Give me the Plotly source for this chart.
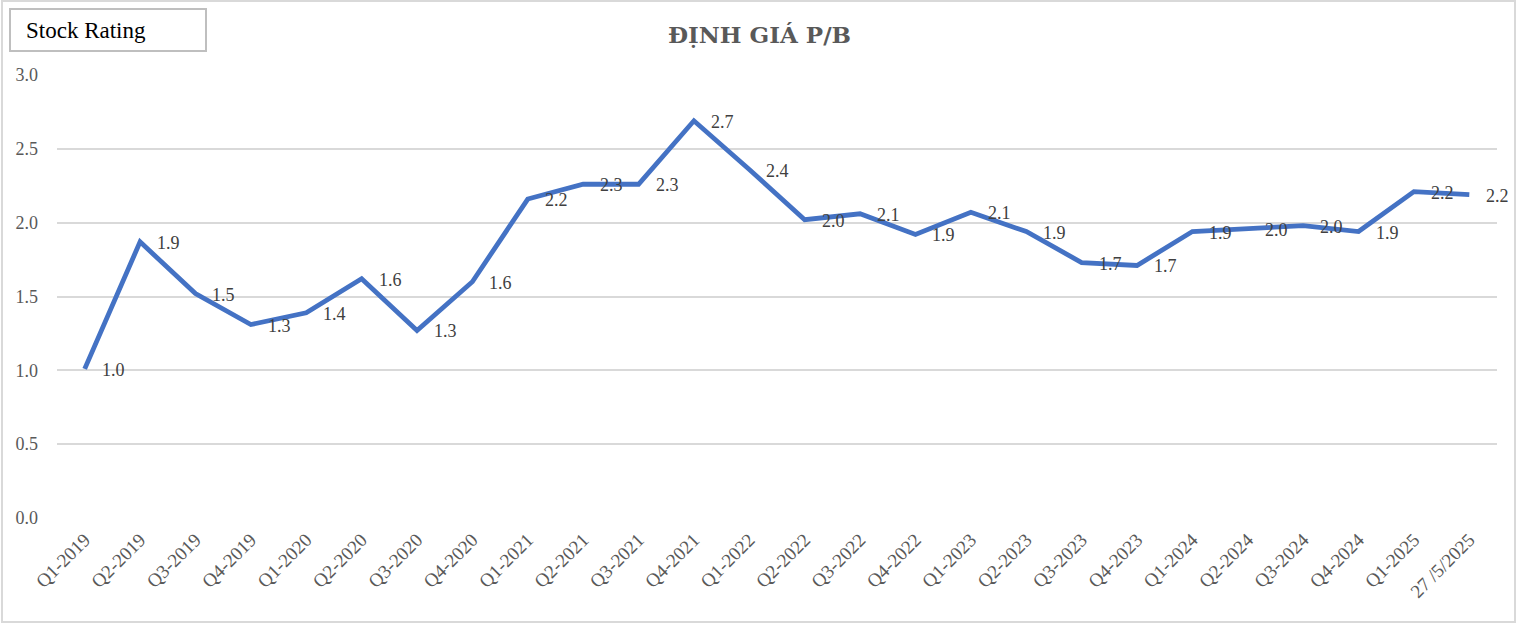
import plotly.graph_objects as go

categories = ["Q1-2019", "Q2-2019", "Q3-2019", "Q4-2019", "Q1-2020", "Q2-2020", "Q3-2020",
              "Q4-2020", "Q1-2021", "Q2-2021", "Q3-2021", "Q4-2021", "Q1-2022", "Q2-2022",
              "Q3-2022", "Q4-2022", "Q1-2023", "Q2-2023", "Q3-2023", "Q4-2023", "Q1-2024",
              "Q2-2024", "Q3-2024", "Q4-2024", "Q1-2025", "27 /5/2025"]
pb_values = [1.01, 1.87, 1.52, 1.31, 1.39, 1.62, 1.27, 1.60, 2.16, 2.26, 2.26, 2.69, 2.36,
             2.02, 2.06, 1.92, 2.07, 1.94, 1.73, 1.71, 1.94, 1.96, 1.98, 1.94, 2.21, 2.19]
y_ticks = [0.0, 0.5, 1.0, 1.5, 2.0, 2.5, 3.0]
title_text = "ĐỊNH GIÁ P/B"
box_text = "Stock Rating"

serif = "Liberation Serif"
x_idx = list(range(len(categories)))

fig = go.Figure()
fig.add_trace(go.Scatter(
    x=x_idx, y=pb_values, mode="lines",
    line=dict(color="#4472C4", width=4.8),
    hoverinfo="skip", showlegend=False,
))

for xi, v in zip(x_idx, pb_values):
    fig.add_annotation(x=xi, y=v, text=f"{v:.1f}", showarrow=False,
                       xanchor="left", yanchor="middle", xshift=15, yshift=-1,
                       font=dict(family=serif, size=18, color="#404040"))

fig.update_layout(
    width=1519, height=625,
    margin=dict(l=57, r=22, t=75, b=107),
    paper_bgcolor="white", plot_bgcolor="white",
    title=dict(text=f"<b>{title_text}</b>", x=0.5, xanchor="center", y=0.944, yanchor="middle",
               font=dict(family="DejaVu Serif", size=23, color="#595959")),
    xaxis=dict(
        tickmode="array", tickvals=x_idx, ticktext=categories,
        range=[-0.5, len(categories) - 0.5], tickangle=-45,
        showgrid=False, showline=False, zeroline=False, ticks="",
        ticklabelstandoff=6,
        tickfont=dict(family=serif, size=19, color="#595959"),
    ),
    yaxis=dict(
        range=[0, 3], tickmode="array", tickvals=y_ticks,
        ticktext=[f"{t:.1f}" for t in y_ticks],
        showgrid=True, gridcolor="#d9d9d9", gridwidth=1.5,
        zeroline=False, showline=False, ticks="", ticklabelstandoff=18,
        tickfont=dict(family=serif, size=18, color="#595959"),
    ),
)

# outer chart border
fig.add_shape(type="rect", xref="paper", yref="paper",
              x0=(2 - 57) / 1440, x1=(1515 - 57) / 1440,
              y0=(518 - 622) / 443, y1=(518 - 1) / 443,
              line=dict(color="#d9d9d9", width=2), fillcolor="rgba(0,0,0,0)", layer="below")
# Stock Rating box
fig.add_shape(type="rect", xref="paper", yref="paper",
              x0=(10 - 57) / 1440, x1=(206 - 57) / 1440,
              y0=(518 - 51) / 443, y1=(518 - 9) / 443,
              line=dict(color="#bfbfbf", width=2), fillcolor="white")
fig.add_annotation(xref="paper", yref="paper", x=(24 - 57) / 1440, y=(518 - 31) / 443,
                   text=box_text, showarrow=False, xanchor="left", yanchor="middle",
                   font=dict(family=serif, size=23, color="#000000"))

fig.write_html("out.html")
